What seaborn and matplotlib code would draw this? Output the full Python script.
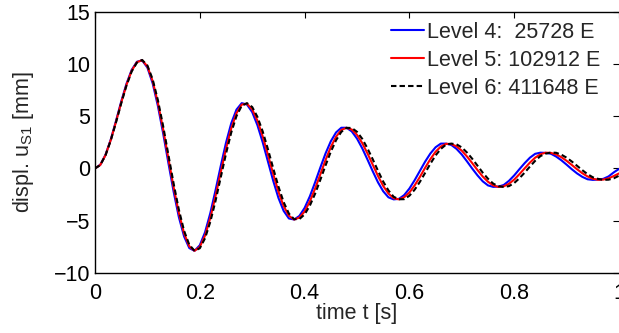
import numpy as np
import pandas as pd
import seaborn as sns
import matplotlib
matplotlib.use('Agg')
import matplotlib.pyplot as plt

# sampling times [s]
time_s = np.linspace(0.0, 1.0, 101)

# displacement u_S1 [mm] at every 0.01 s
level4 = [0.00, 0.34, 1.30, 2.76, 4.54, 6.41, 8.11, 9.45, 10.23, 10.36,
          9.67, 8.17, 6.00, 3.38, 0.54, -2.22, -4.66, -6.52, -7.64, -7.90,
          -7.37, -6.12, -4.30, -2.10, 0.24, 2.46, 4.33, 5.64, 6.26, 6.13,
          5.40, 4.14, 2.51, 0.67, -1.17, -2.82, -4.07, -4.80, -4.90, -4.56,
          -3.79, -2.68, -1.34, 0.08, 1.44, 2.60, 3.45, 3.90, 3.90, 3.55,
          2.86, 1.93, 0.85, -0.27, -1.33, -2.19, -2.77, -2.97, -2.92, -2.56,
          -1.93, -1.13, -0.24, 0.65, 1.43, 2.03, 2.38, 2.38, 2.25, 1.87,
          1.33, 0.67, -0.02, -0.67, -1.24, -1.63, -1.77, -1.74, -1.59, -1.19,
          -0.67, -0.07, 0.51, 1.03, 1.40, 1.51, 1.49, 1.41, 1.14, 0.78,
          0.36, -0.08, -0.48, -0.81, -1.04, -1.10, -1.07, -1.00, -0.77, -0.38,
          -0.05]
level5 = [0.00, 0.33, 1.27, 2.71, 4.46, 6.31, 8.01, 9.37, 10.19, 10.38,
          9.78, 8.38, 6.30, 3.76, 0.97, -1.79, -4.27, -6.22, -7.47, -7.90,
          -7.53, -6.44, -4.76, -2.66, -0.36, 1.88, 3.84, 5.30, 6.12, 6.20,
          5.67, 4.58, 3.08, 1.32, -0.51, -2.22, -3.61, -4.54, -4.90, -4.72,
          -4.13, -3.17, -1.94, -0.57, 0.81, 2.05, 3.04, 3.68, 3.90, 3.73,
          3.22, 2.43, 1.44, 0.36, -0.72, -1.68, -2.41, -2.86, -2.97, -2.77,
          -2.31, -1.63, -0.82, 0.06, 0.89, 1.60, 2.10, 2.36, 2.34, 2.11,
          1.70, 1.14, 0.50, -0.16, -0.78, -1.28, -1.63, -1.78, -1.72, -1.47,
          -1.07, -0.55, 0.01, 0.56, 1.03, 1.36, 1.51, 1.49, 1.34, 1.08,
          0.73, 0.33, -0.08, -0.46, -0.77, -0.99, -1.09, -1.07, -0.95, -0.73,
          -0.48]
level6 = [0.00, 0.32, 1.25, 2.67, 4.40, 6.23, 7.93, 9.30, 10.15, 10.40,
          9.87, 8.55, 6.55, 4.07, 1.32, -1.44, -3.95, -5.98, -7.33, -7.90,
          -7.66, -6.70, -5.13, -3.12, -0.85, 1.41, 3.44, 5.02, 6.01, 6.26,
          5.89, 4.94, 3.55, 1.85, 0.03, -1.73, -3.23, -4.33, -4.87, -4.86,
          -4.41, -3.57, -2.43, -1.10, 0.29, 1.60, 2.70, 3.50, 3.89, 3.88,
          3.51, 2.84, 1.92, 0.88, -0.22, -1.26, -2.11, -2.72, -2.96, -2.95,
          -2.62, -2.04, -1.29, -0.43, 0.45, 1.25, 1.87, 2.29, 2.38, 2.31,
          2.01, 1.52, 0.92, 0.26, -0.41, -0.99, -1.46, -1.71, -1.78, -1.70,
          -1.40, -0.94, -0.40, 0.18, 0.73, 1.18, 1.42, 1.52, 1.50, 1.32,
          1.03, 0.66, 0.25, -0.17, -0.55, -0.85, -1.00, -1.10, -1.08, -0.95,
          -0.70]

labels = ['Level 4:  25728 E', 'Level 5: 102912 E', 'Level 6: 411648 E']
colors = ['#0000ff', '#ff0000', '#000000']


def main():
    sns.set_style('white')
    plt.rcParams['font.family'] = ['Liberation Sans', 'DejaVu Sans']
    plt.rcParams['mathtext.fontset'] = 'custom'
    plt.rcParams['mathtext.rm'] = 'Liberation Sans'
    plt.rcParams['mathtext.it'] = 'Liberation Sans'

    fig = plt.figure(figsize=(6.19, 3.33), dpi=100)
    ax = fig.add_axes([95 / 619, 60.3 / 333, 524 / 619, 260.7 / 333])

    series = [level4, level5, level6]
    styles = ['-', '-', (0, (2.6, 1.5))]
    for values, label, color, ls in zip(series, labels, colors, styles):
        sns.lineplot(x=time_s, y=values, color=color, linewidth=1.5,
                     linestyle=ls, label=label, errorbar=None, ax=ax)

    ax.set_xlim(0, 1)
    ax.set_ylim(-10, 15)
    ax.set_xticks([0, 0.2, 0.4, 0.6, 0.8, 1])
    ax.set_xticklabels(['0', '0.2', '0.4', '0.6', '0.8', '1'])
    ax.set_yticks([-10, -5, 0, 5, 10, 15])
    ax.set_yticklabels(['\u221210', '\u22125', '0', '5', '10', '15'])
    ax.tick_params(direction='in', length=4, width=0.8, top=True, right=True,
                   labelsize=15.5, colors='black')
    ax.tick_params(axis='x', pad=7.5)
    ax.tick_params(axis='y', pad=3.5)
    for side in ['left', 'top', 'bottom']:
        ax.spines[side].set_linewidth(1.0)
        ax.spines[side].set_color('black')
    ax.spines['right'].set_visible(False)

    ax.set_xlabel('time t [s]', fontsize=15.5, labelpad=-1)
    ax.set_ylabel(r'displ. u$_{\mathrm{S1}}$ [mm]', fontsize=15.5)
    ax.yaxis.set_label_coords(-0.112, 0.5)

    ax.legend(loc='upper left', bbox_to_anchor=(391 / 619, 1 - 22 / 333),
              bbox_transform=fig.transFigure, frameon=False, fontsize=15.5,
              handlelength=1.55, handletextpad=0.1, labelspacing=0.32,
              borderpad=0, borderaxespad=0)

    fig.savefig('out.png', dpi=100)


if __name__ == '__main__':
    main()
